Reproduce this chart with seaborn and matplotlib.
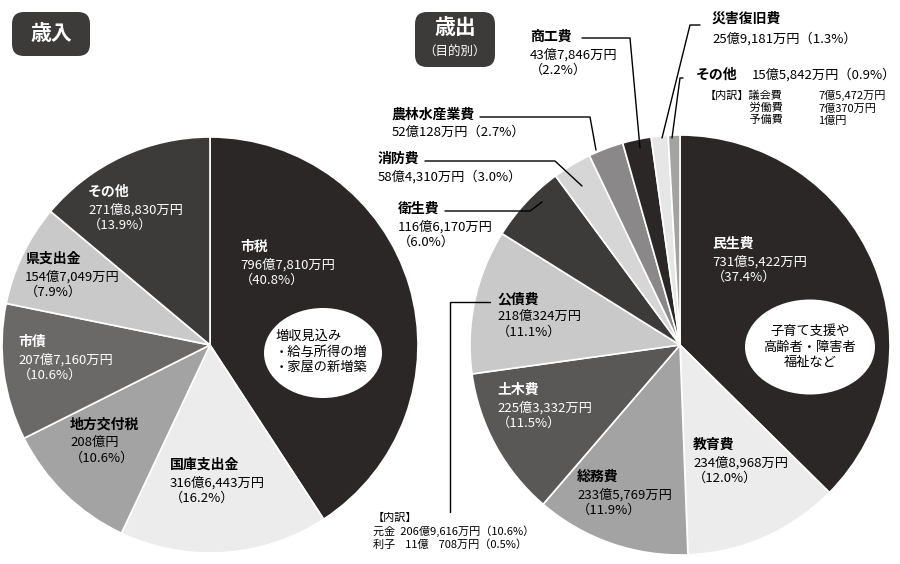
import matplotlib
matplotlib.use("Agg")
import matplotlib.pyplot as plt
import seaborn as sns
from matplotlib.patches import FancyBboxPatch, Ellipse

sns.set_theme(style="white", font="Noto Sans CJK JP")

# 歳入
rev_names = ["市税", "国庫支出金", "地方交付税", "市債", "県支出金", "その他"]
rev_amounts = ["796億7,810万円", "316億6,443万円", "208億円", "207億7,160万円", "154億7,049万円", "271億8,830万円"]
rev_pct = [40.8, 16.2, 10.6, 10.6, 7.9, 13.9]
rev_colors = ["#2b2727", "#ececec", "#a3a3a3", "#6b6868", "#c9c9c9", "#3d3a3a"]

# 歳出
exp_names = ["民生費", "教育費", "総務費", "土木費", "公債費", "衛生費", "消防費",
             "農林水産業費", "商工費", "災害復旧費", "その他"]
exp_amounts = ["731億5,422万円", "234億8,968万円", "233億5,769万円", "225億3,332万円",
               "218億324万円", "116億6,170万円", "58億4,310万円", "52億128万円",
               "43億7,846万円", "25億9,181万円", "15億5,842万円"]
exp_pct = [37.4, 12.0, 11.9, 11.5, 11.1, 6.0, 3.0, 2.7, 2.2, 1.3, 0.9]
exp_colors = ["#2b2727", "#ececec", "#a3a3a3", "#5a5757", "#c9c9c9", "#3d3a3a",
              "#d6d6d6", "#8a8888", "#2b2727", "#e6e6e6", "#a3a3a3"]

H = 564
fig = plt.figure(figsize=(9, 5.64), dpi=100)
ax = fig.add_axes([0, 0, 1, 1])

wp = dict(edgecolor="white", linewidth=1.2)
ax.pie(rev_pct, colors=rev_colors, startangle=90, counterclock=False,
       center=(210, H - 345), radius=208, wedgeprops=wp, frame=True)
ax.pie(exp_pct, colors=exp_colors, startangle=90, counterclock=False,
       center=(680, H - 345), radius=210, wedgeprops=wp, frame=True)
ax.set_xlim(0, 900)
ax.set_ylim(0, H)
ax.set_aspect("equal")
ax.axis("off")


def t(x, y, s, c="black", size=9.5, bold=False, ha="left", va="top"):
    ax.text(x, H - y, s, color=c, fontsize=size, ha=ha, va=va,
            fontweight="bold" if bold else "normal", linespacing=1.25)


def lab(x, y, name, amount, pct, c="black"):
    t(x, y, name, c, 10, True)
    t(x, y + 18, f"{amount}\n（{pct}%）", c, 9.5)


def line(pts):
    ax.plot([p[0] for p in pts], [H - p[1] for p in pts], color="black", lw=1)


# title boxes
for x0, w, h in [(12, 78, 44), (415, 80, 55)]:
    ax.add_patch(FancyBboxPatch((x0, H - 12 - h), w, h, boxstyle="round,pad=0,rounding_size=12",
                                fc="#3d3a3a", ec="none"))
t(51, 34, "歳入", "white", 15, True, ha="center", va="center")
t(455, 28, "歳出", "white", 15, True, ha="center", va="center")
t(455, 52, "（目的別）", "white", 9, ha="center", va="center")

# revenue labels
lab(240, 240, rev_names[0], rev_amounts[0], rev_pct[0], "white")
lab(170, 458, rev_names[1], rev_amounts[1], rev_pct[1])
lab(70, 418, rev_names[2], rev_amounts[2], rev_pct[2])
lab(18, 335, rev_names[3], rev_amounts[3], rev_pct[3], "white")
lab(25, 252, rev_names[4], rev_amounts[4], rev_pct[4])
lab(88, 185, rev_names[5], rev_amounts[5], rev_pct[5], "white")

ax.add_patch(Ellipse((323, H - 353), 118, 90, fc="white", ec="none"))
t(275, 330, "増収見込み\n・給与所得の増\n・家屋の新増築", size=9.5, va="top")

# expenditure labels
lab(712, 237, exp_names[0], exp_amounts[0], exp_pct[0], "white")
lab(693, 438, exp_names[1], exp_amounts[1], exp_pct[1])
lab(577, 470, exp_names[2], exp_amounts[2], exp_pct[2])
lab(497, 383, exp_names[3], exp_amounts[3], exp_pct[3], "white")
lab(497, 292, exp_names[4], exp_amounts[4], exp_pct[4])
lab(398, 202, exp_names[5], exp_amounts[5], exp_pct[5])
t(378, 152, exp_names[6], size=10, bold=True)
t(378, 170, f"{exp_amounts[6]}（{exp_pct[6]}%）")
t(392, 108, exp_names[7], size=10, bold=True)
t(392, 126, f"{exp_amounts[7]}（{exp_pct[7]}%）")
t(530, 30, exp_names[8], size=10, bold=True)
t(530, 48, f"{exp_amounts[8]}\n（{exp_pct[8]}%）")
t(712, 12, exp_names[9], size=10, bold=True)
t(712, 32, f"{exp_amounts[9]}（{exp_pct[9]}%）")
t(696, 68, exp_names[10], size=10, bold=True)
t(752, 68, f"{exp_amounts[10]}（{exp_pct[10]}%）")
t(705, 90, "【内訳】議会費\n　　　　労働費\n　　　　予備費", size=8)
t(818, 90, "7億5,472万円\n7億370万円\n1億円", size=8)
t(373, 513, "【内訳】\n元金  206億9,616万円（10.6%）\n利子    11億    708万円（0.5%）", size=8)

ax.add_patch(Ellipse((810, H - 347), 130, 95, fc="white", ec="none"))
t(810, 347, "子育て支援や\n高齢者・障害者\n福祉など", size=9.5, ha="center", va="center")

# leader lines
line([(445, 211), (530, 211), (542, 202)])
line([(480, 117), (590, 117), (596, 150)])
line([(425, 161), (555, 161), (582, 186)])
line([(582, 38), (630, 38), (640, 148)])
line([(700, 25), (690, 25), (662, 138)])
line([(683, 78), (680, 78), (672, 138)])
line([(450, 512), (450, 302), (490, 302)])

fig.savefig("out.png", dpi=100)
